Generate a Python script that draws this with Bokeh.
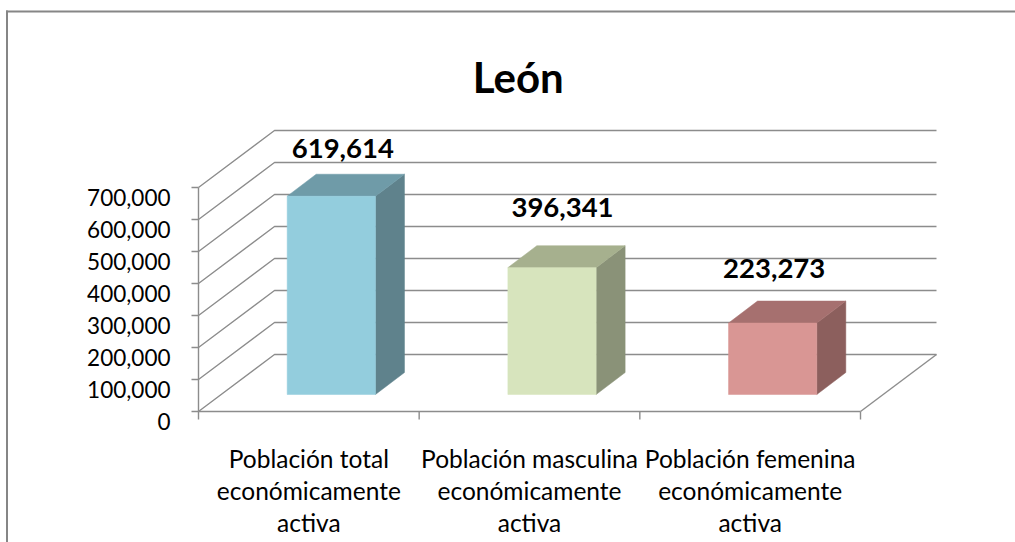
from bokeh.plotting import figure
from bokeh.models import Range1d
from bokeh.core.properties import value
from bokeh.embed import file_html
from bokeh.resources import INLINE

# ---------------- data ----------------
title_text = "León"
categories = [
    "Población total\neconómicamente\nactiva",
    "Población masculina\neconómicamente\nactiva",
    "Población femenina\neconómicamente\nactiva",
]
values = [619614, 396341, 223273]
value_labels = ["619,614", "396,341", "223,273"]
y_ticks = [0, 100000, 200000, 300000, 400000, 500000, 600000, 700000]
y_tick_labels = ["0", "100,000", "200,000", "300,000", "400,000", "500,000", "600,000", "700,000"]

# ---------------- style ----------------
front_colors = ["#93CDDD", "#D7E4BD", "#D99694"]
top_colors = ["#6F9BA8", "#A6B08E", "#A6706F"]
side_colors = ["#5F828C", "#8A9278", "#8C5F5D"]
grid_color = "#8C8C8C"
FONT = "Lato"

# ---------------- layout (canvas pixels) ----------------
W, H = 1015, 542
AX_LEFT_PX = 198.0      # front-left corner of the floor
AX_RIGHT_PX = 860.0     # front-right corner of the floor
AX_ZERO_PX = 411.0      # value 0 on front plane, from top
PX_PER_VALUE = 32.0 / 100000.0
DEPTH_PX = (76.0, 57.0)         # wall depth (right, up)
BAR_FRONT_PX = (22.5, 17.0)     # bar front plane offset
BAR_DEPTH_PX = (29.0, 22.0)     # bar depth
BAR_WIDTH = 0.4                 # in category units
label_offsets_px = [(11.5, -48.0), (10.5, -60.0), (1.5, -55.0)]
TITLE_POS_PX = (517.8, 76.7)

ncat = len(values)
px_per_x = (AX_RIGHT_PX - AX_LEFT_PX) / ncat
val_per_px = 1.0 / PX_PER_VALUE

x_start = -AX_LEFT_PX / px_per_x
x_end = x_start + W / px_per_x
y_start = -(H - AX_ZERO_PX) * val_per_px
y_end = y_start + H * val_per_px


def dx(px):
    return px / px_per_x


def dy(px):
    return px * val_per_px


def x_at(px):
    return x_start + px / px_per_x


def y_at(px_from_top):
    return y_end - px_from_top * val_per_px


p = figure(width=W, height=H, output_backend="svg", toolbar_location=None,
           x_range=Range1d(x_start, x_end), y_range=Range1d(y_start, y_end),
           min_border=0, min_border_left=0, min_border_right=0,
           min_border_top=0, min_border_bottom=0)
p.axis.visible = False
p.grid.visible = False
p.outline_line_color = None
p.background_fill_color = "white"
p.border_fill_color = "white"

# outer chart border (top and left visible), drawn as thin filled strips
p.quad(left=[x_at(5.5), x_at(5.5)], right=[x_at(W + 10), x_at(7.5)],
       top=[y_at(10.0), y_at(10.0)], bottom=[y_at(12.0), y_at(H + 10)],
       fill_color="#868686", line_color=None)

DXW, DYW = dx(DEPTH_PX[0]), dy(DEPTH_PX[1])
ymax = max(y_ticks)

# gridlines: left wall diagonals + back wall horizontals
gx, gy = [], []
for v in y_ticks:
    gx.append([0, DXW, ncat + DXW])
    gy.append([v, v + DYW, v + DYW])
# floor right edge and front axis line
gx.append([ncat, ncat + DXW]); gy.append([0, DYW])
gx.append([0, ncat]); gy.append([0, 0])
# vertical value axis
gx.append([0, 0]); gy.append([0, ymax])
# value ticks
for v in y_ticks:
    gx.append([dx(-7), 0]); gy.append([v, v])
# category ticks
for i in range(ncat + 1):
    gx.append([i, i]); gy.append([0, dy(-8)])
p.multi_line(gx, gy, line_color=grid_color, line_width=1.4)

# bars
ox, oy = dx(BAR_FRONT_PX[0]), dy(BAR_FRONT_PX[1])
bx, by = dx(BAR_DEPTH_PX[0]), dy(BAR_DEPTH_PX[1])
for i, v in enumerate(values):
    c = i + 0.5
    xl, xr = c - BAR_WIDTH / 2 + ox, c + BAR_WIDTH / 2 + ox
    y0, y1 = oy, v + oy
    # side
    p.patch([xr, xr + bx, xr + bx, xr], [y0, y0 + by, y1 + by, y1],
            fill_color=side_colors[i], line_color=side_colors[i], line_width=0.5)
    # top
    p.patch([xl, xr, xr + bx, xl + bx], [y1, y1, y1 + by, y1 + by],
            fill_color=top_colors[i], line_color=top_colors[i], line_width=0.5)
    # front
    p.patch([xl, xr, xr, xl], [y0, y0, y1, y1],
            fill_color=front_colors[i], line_color=front_colors[i], line_width=0.5)

# value labels
for i, v in enumerate(values):
    c = i + 0.5 + ox
    p.text(x=[c], y=[v + oy], text=[value_labels[i]],
           x_offset=label_offsets_px[i][0], y_offset=label_offsets_px[i][1],
           text_align="center", text_baseline="alphabetic",
           text_font=value(FONT), text_font_style="bold",
           text_font_size="27.5px", text_color="black")

# value axis tick labels
p.text(x=[0] * len(y_ticks), y=y_ticks, text=y_tick_labels,
       x_offset=-28, y_offset=9.5, text_align="right", text_baseline="alphabetic",
       text_font=value(FONT), text_font_size="22.5px", text_color="black")

# category labels (one glyph per line)
for i, cat in enumerate(categories):
    for k, line in enumerate(cat.split("\n")):
        p.text(x=[i + 0.5], y=[0], text=[line], x_offset=0, y_offset=47 + 32 * k,
               text_align="center", text_baseline="alphabetic",
               text_font=value(FONT), text_font_size="24.5px", text_color="black")

# title
p.text(x=[x_at(TITLE_POS_PX[0])], y=[y_at(TITLE_POS_PX[1])], text=[title_text],
       text_align="center", text_baseline="alphabetic",
       text_font=value(FONT), text_font_style="bold",
       text_font_size="42px", text_color="black")

open("out.html", "w").write(file_html(p, INLINE))
